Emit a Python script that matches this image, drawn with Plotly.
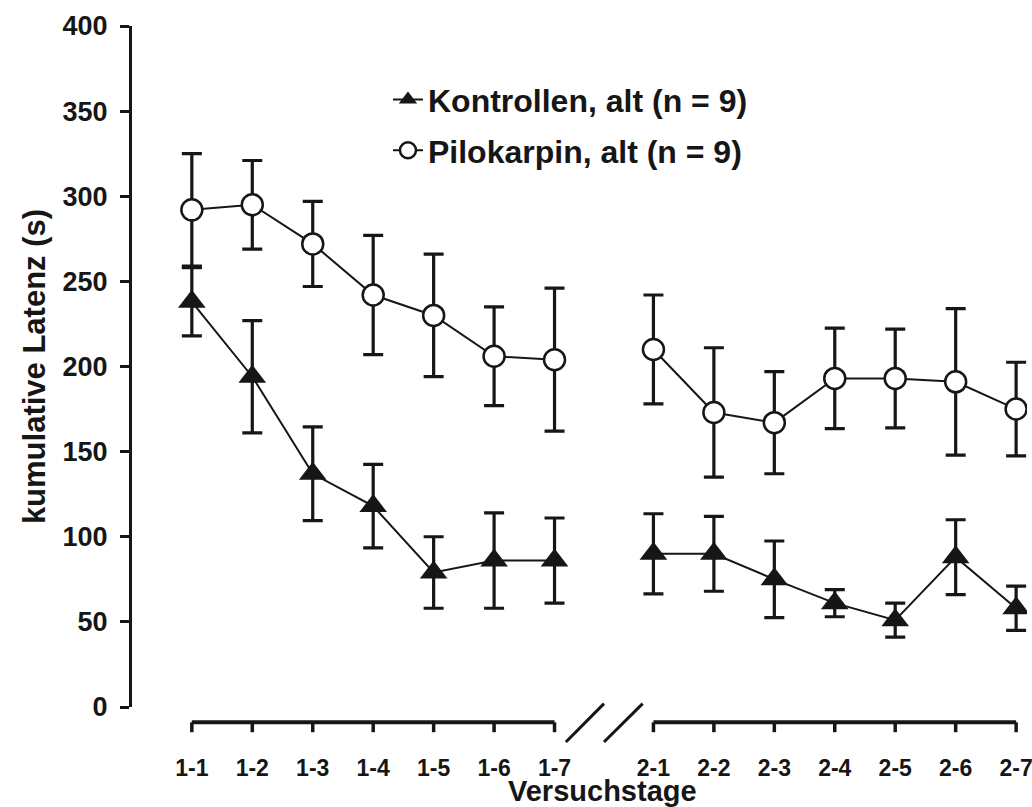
import plotly.graph_objects as go

# ---------------- data ----------------
days = ["1-1", "1-2", "1-3", "1-4", "1-5", "1-6", "1-7",
        "2-1", "2-2", "2-3", "2-4", "2-5", "2-6", "2-7"]

kontrollen_mean = [238, 194, 137, 118, 79, 86, 86,
                   90, 90, 75, 61, 51, 88, 58]
kontrollen_sem = [20, 33, 27.5, 24.5, 21, 28, 25,
                  23.5, 22, 22.5, 8, 10, 22, 13]

pilokarpin_mean = [292, 295, 272, 242, 230, 206, 204,
                   210, 173, 167, 193, 193, 191, 175]
pilokarpin_sem = [33, 26, 25, 35, 36, 29, 42,
                  32, 38, 30, 29.5, 29, 43, 27.5]

y_ticks = [0, 50, 100, 150, 200, 250, 300, 350, 400]

# ---------------- layout helpers ----------------
EXTRA = 0.636        # extra spacing between the two test blocks
n1 = 7
pos = [i if i < n1 else i + EXTRA for i in range(len(days))]


def with_break(vals):
    return vals[:n1] + [None] + vals[n1:]


x_line = with_break(pos)
INK = "#161616"
FONT = "Liberation Sans, Arial, sans-serif"

fig = go.Figure()

fig.add_trace(go.Scatter(
    x=x_line, y=with_break(kontrollen_mean),
    mode="lines+markers", connectgaps=False,
    name="Kontrollen, alt (n = 9)", legendgroup="k",
    line=dict(color=INK, width=2),
    marker=dict(symbol="triangle-up", size=24, color=INK,
                line=dict(color=INK, width=0)),
    error_y=dict(type="data", array=with_break(kontrollen_sem),
                 color=INK, thickness=3.2, width=10),
))

fig.add_trace(go.Scatter(
    x=x_line, y=with_break(pilokarpin_mean),
    mode="lines+markers", connectgaps=False,
    name="Pilokarpin, alt (n = 9)", legendgroup="p",
    line=dict(color=INK, width=2),
    marker=dict(symbol="circle", size=21, color="white",
                line=dict(color=INK, width=2.5)),
    error_y=dict(type="data", array=with_break(pilokarpin_sem),
                 color=INK, thickness=3.2, width=10),
))

# ---------------- broken x axis drawn as shapes ----------------
AX_Y = -0.0225
TICK_Y = -0.037
shapes = []
for a, b in [(pos[0], pos[n1 - 1]), (pos[n1], pos[-1])]:
    shapes.append(dict(type="line", xref="x", yref="paper",
                       x0=a, x1=b, y0=AX_Y, y1=AX_Y,
                       line=dict(color=INK, width=4)))
for p in pos:
    shapes.append(dict(type="line", xref="x", yref="paper",
                       x0=p, x1=p, y0=AX_Y, y1=TICK_Y,
                       line=dict(color=INK, width=3.5)))
mid = (pos[n1 - 1] + pos[n1]) / 2
for dx0, dx1 in [(-0.63, 0.0), (0.0, 0.64)]:
    shapes.append(dict(type="line", xref="x", yref="paper",
                       x0=mid + dx0, x1=mid + dx1, y0=-0.0514, y1=0.005,
                       line=dict(color=INK, width=3)))

fig.update_layout(
    width=1032, height=807,
    margin=dict(l=132, r=5, t=26, b=100),
    paper_bgcolor="white", plot_bgcolor="white",
    font=dict(family=FONT, color=INK, size=24, weight="bold"),
    showlegend=True,
    legend=dict(x=0.286, y=0.932, xanchor="left", yanchor="top",
                bgcolor="rgba(0,0,0,0)",
                font=dict(size=32, family=FONT, weight="bold", color=INK),
                tracegroupgap=6, itemsizing="trace"),
    shapes=shapes,
    annotations=[dict(text="Versuchstage", xref="paper", yref="paper",
                      x=0.526, y=-0.124, xanchor="center", yanchor="middle",
                      showarrow=False,
                      font=dict(size=29, family=FONT, weight="bold", color=INK))],
    xaxis=dict(range=[-0.99, pos[-1] + 0.18], automargin=False,
               tickmode="array", tickvals=pos, ticktext=days,
               showline=False, showgrid=False, zeroline=False,
               ticks="outside", ticklen=40, tickcolor="rgba(0,0,0,0)",
               ticklabeloverflow="allow",
               tickfont=dict(size=23, family=FONT, weight="bold", color=INK)),
    yaxis=dict(range=[0, 400], tickmode="array", tickvals=y_ticks,
               automargin=False,
               showline=True, linecolor=INK, linewidth=3,
               showgrid=False, zeroline=False,
               ticks="outside", ticklen=9, tickwidth=3, tickcolor=INK,
               tickfont=dict(size=27, family=FONT, weight="bold", color=INK),
               ticklabelstandoff=7,
               title=dict(text="kumulative Latenz (s)", standoff=8,
                          font=dict(size=31, family=FONT, weight="bold", color=INK))),
)

fig.write_html("out.html", config={"displayModeBar": False},
               post_script="document.body.style.margin='0';")
